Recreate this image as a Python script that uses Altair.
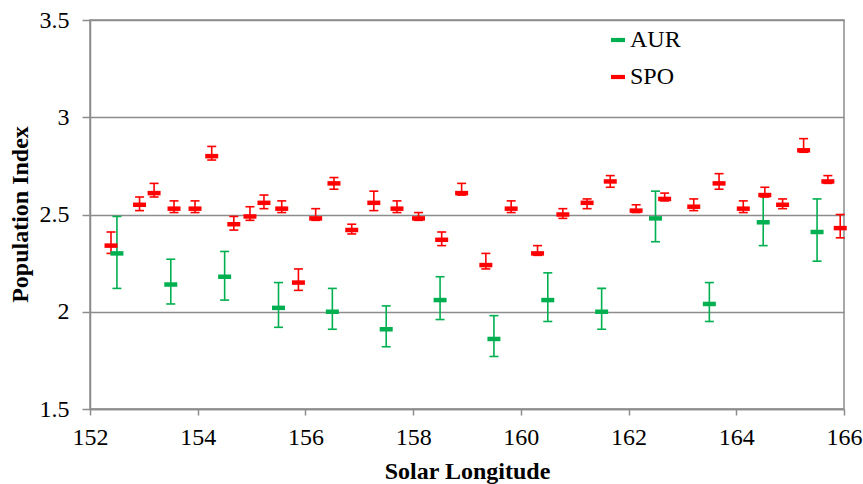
import altair as alt
import pandas as pd

# ---- data ----
aur_x = [152.5, 153.5, 154.5, 155.5, 156.5, 157.5, 158.5, 159.5, 160.5, 161.5, 162.5, 163.5, 164.5, 165.5]
aur_mean = [2.30, 2.14, 2.18, 2.02, 2.00, 1.91, 2.06, 1.86, 2.06, 2.00, 2.48, 2.04, 2.46, 2.41]
aur_hi = [2.49, 2.27, 2.31, 2.15, 2.12, 2.03, 2.18, 1.98, 2.20, 2.12, 2.62, 2.15, 2.60, 2.58]
aur_lo = [2.12, 2.04, 2.06, 1.92, 1.91, 1.82, 1.96, 1.77, 1.95, 1.91, 2.36, 1.95, 2.34, 2.26]

spo_x = [152.39, 152.92, 153.19, 153.56, 153.95, 154.26, 154.67, 154.97, 155.23, 155.56,
         155.87, 156.19, 156.53, 156.86, 157.27, 157.70, 158.10, 158.53, 158.90, 159.35,
         159.82, 160.31, 160.78, 161.23, 161.66, 162.14, 162.67, 163.21, 163.68, 164.13,
         164.53, 164.86, 165.25, 165.70, 165.93]
spo_mean = [2.34, 2.55, 2.61, 2.53, 2.53, 2.80, 2.45, 2.49, 2.56, 2.53,
            2.15, 2.48, 2.66, 2.42, 2.56, 2.53, 2.48, 2.37, 2.61, 2.24,
            2.53, 2.30, 2.50, 2.56, 2.67, 2.52, 2.58, 2.54, 2.66, 2.53,
            2.60, 2.55, 2.83, 2.67, 2.43]
spo_hi = [2.41, 2.59, 2.66, 2.57, 2.57, 2.85, 2.49, 2.54, 2.60, 2.57,
          2.22, 2.53, 2.69, 2.45, 2.62, 2.57, 2.51, 2.41, 2.66, 2.30,
          2.57, 2.34, 2.53, 2.58, 2.70, 2.55, 2.61, 2.58, 2.71, 2.57,
          2.64, 2.58, 2.89, 2.70, 2.50]
spo_lo = [2.30, 2.52, 2.59, 2.51, 2.51, 2.78, 2.42, 2.47, 2.53, 2.51,
          2.11, 2.47, 2.63, 2.40, 2.52, 2.51, 2.47, 2.34, 2.60, 2.22,
          2.51, 2.29, 2.48, 2.53, 2.64, 2.51, 2.57, 2.52, 2.63, 2.51,
          2.59, 2.53, 2.82, 2.66, 2.38]

series_names = ["AUR", "SPO"]
series_colors = ["#00B050", "#FF0000"]
x_ticks = [152, 154, 156, 158, 160, 162, 164, 166]
y_ticks = [1.5, 2.0, 2.5, 3.0, 3.5]

df = pd.concat([
    pd.DataFrame({"series": "AUR", "sl": aur_x, "pi": aur_mean, "hi": aur_hi, "lo": aur_lo}),
    pd.DataFrame({"series": "SPO", "sl": spo_x, "pi": spo_mean, "hi": spo_hi, "lo": spo_lo}),
], ignore_index=True)

FONT = "Liberation Serif"
GRID = "#8c8c8c"

xscale = alt.Scale(domain=[152, 166], nice=False, zero=False)
yscale = alt.Scale(domain=[1.5, 3.5], nice=False, zero=False)
cscale = alt.Scale(domain=series_names, range=series_colors)

x_enc = alt.X("sl:Q", scale=xscale, axis=alt.Axis(
    values=x_ticks, title="Solar Longitude", grid=False, format="~g",
    labelFont=FONT, labelFontSize=24, labelColor="black", labelPadding=10,
    tickSize=6, tickColor=GRID, tickWidth=1.5, domainColor=GRID, domainWidth=1.5,
    titleFont=FONT, titleFontSize=24, titleFontWeight="bold", titleColor="black",
    titleY=69, titleBaseline="alphabetic", labelFlush=False, labelOverlap=False))

y_axis = alt.Axis(
    values=y_ticks, title="Population Index", grid=True, gridColor=GRID, gridWidth=1.5,
    format="~g", labelFont=FONT, labelFontSize=24, labelColor="black", labelPadding=13,
    tickSize=8, tickColor=GRID, tickWidth=1.5, domainColor=GRID, domainWidth=1.5,
    titleFont=FONT, titleFontSize=24, titleFontWeight="bold", titleColor="black",
    titleX=-63, titleY=194, titleAngle=-90, titleAlign="center", titleBaseline="alphabetic",
    labelFlush=False, labelOverlap=False)

legend = alt.Legend(
    orient="none", legendX=516, legendY=8, direction="vertical",
    symbolType="M-1,-0.3H1V0.3H-1Z", symbolSize=196, symbolStrokeWidth=0,
    symbolOpacity=1,
    labelFont=FONT, labelFontSize=24, labelColor="black", labelOffset=0,
    rowPadding=13, padding=0)

color_enc = alt.Color("series:N", scale=cscale, title=None, legend=legend)

base = alt.Chart(df)

rules = base.mark_rule(strokeWidth=1.6).encode(
    x=x_enc, y=alt.Y("lo:Q", scale=yscale, axis=y_axis), y2="hi:Q", color=color_enc)

cap_hi = base.mark_tick(orient="horizontal", size=9, thickness=1.6, opacity=1).encode(
    x="sl:Q", y=alt.Y("hi:Q", scale=yscale), color=color_enc)
cap_lo = base.mark_tick(orient="horizontal", size=9, thickness=1.6, opacity=1).encode(
    x="sl:Q", y=alt.Y("lo:Q", scale=yscale), color=color_enc)

center = base.mark_tick(orient="horizontal", size=13, thickness=4.5, opacity=1).encode(
    x="sl:Q", y=alt.Y("pi:Q", scale=yscale), color=color_enc)

chart = alt.layer(rules, cap_hi, cap_lo, center).properties(
    width=754, height=389,
    autosize=alt.AutoSizeParams(type="none"),
    padding={"left": 90, "top": 20, "right": 19, "bottom": 75},
    background="white",
).configure_view(stroke=GRID, strokeWidth=1.5)

chart.save("out.html", embed_options={"renderer": "svg", "actions": False})
